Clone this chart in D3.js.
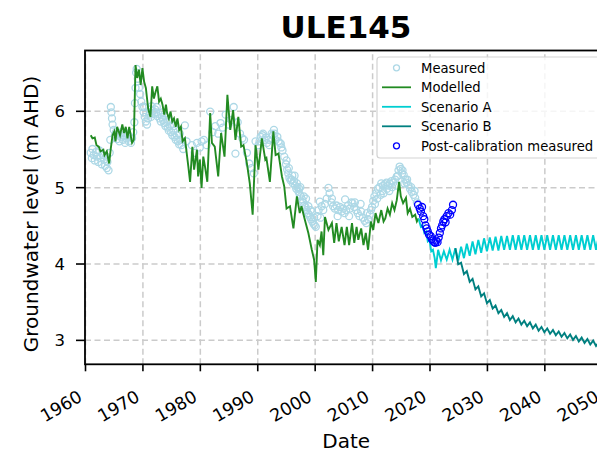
<!DOCTYPE html>
<html>
<head>
<meta charset="utf-8">
<script src="https://cdn.jsdelivr.net/npm/d3@7"></script>
<style>
  body { margin: 0; background: #fff; }
  svg { display: block; font-family: "DejaVu Sans", sans-serif; }
</style>
</head>
<body>
<svg id="chart" width="597" height="457"></svg>
<script>
// Axis ticks
const xTicks = [1960, 1970, 1980, 1990, 2000, 2010, 2020, 2030, 2040, 2050];
const yTicks = [3, 4, 5, 6];

// Observed bore levels [year, m AHD]
const measured = [
  [1961.0,5.45],[1961.2,5.38],[1961.3,5.50],[1961.5,5.42],[1961.7,5.35],[1961.9,5.46],
  [1962.1,5.40],[1962.3,5.33],[1962.5,5.48],[1962.7,5.38],[1962.9,5.30],[1963.1,5.42],
  [1963.3,5.36],[1963.5,5.28],[1963.7,5.40],[1963.8,5.25],[1963.9,5.33],[1964.1,5.22],
  [1964.3,5.45],[1964.4,5.62],[1964.5,6.05],[1964.6,5.98],[1964.7,5.90],[1964.8,5.82],
  [1965.0,5.75],[1965.2,5.68],[1965.4,5.72],[1965.6,5.63],[1965.8,5.70],[1966.0,5.60],
  [1966.2,5.66],[1966.4,5.72],[1966.6,5.62],[1966.8,5.68],[1967.0,5.58],[1967.2,5.64],
  [1967.4,5.70],[1967.6,5.60],[1967.8,5.66],[1968.0,5.58],[1968.2,5.64],[1968.4,5.72],
  [1968.6,5.85],[1968.7,6.10],[1968.8,6.30],[1968.9,6.50],[1969.0,6.55],[1969.2,6.42],
  [1969.4,6.30],[1969.6,6.22],[1969.8,6.12],[1970.0,6.05],[1970.2,5.98],[1970.4,5.92],
  [1970.6,5.86],[1970.8,5.82],[1971.0,5.90],[1971.2,5.95],[1971.4,6.02],[1971.6,6.06],
  [1971.8,6.00],[1972.0,5.96],[1972.2,6.02],[1972.4,5.98],[1972.6,5.93],[1972.8,5.96],
  [1973.0,5.90],[1973.2,5.86],[1973.4,5.92],[1973.6,5.88],[1973.8,5.84],[1974.0,5.80],
  [1974.2,5.85],[1974.4,5.78],[1974.6,5.74],[1974.8,5.80],[1975.0,5.72],[1975.2,5.68],
  [1975.4,5.74],[1975.6,5.66],[1975.8,5.62],[1976.0,5.68],[1976.2,5.60],[1976.4,5.56],
  [1976.6,5.62],[1976.8,5.55],[1977.1,5.50],[1977.4,5.81],[1977.7,5.60],
  [1970.3,6.05],[1971.5,5.92],[1972.5,6.05],[1973.5,5.98],[1974.5,5.88],[1975.5,5.80],
  [1976.5,5.70],
  [1978.6,5.55],[1979.1,5.45],[1979.5,5.58],[1980.0,5.52],[1980.3,5.60],[1980.7,5.62],
  [1981.2,5.55],[1981.8,5.99],[1982.2,5.72],[1982.7,5.80],[1983.2,5.70],[1983.6,5.84],
  [1984.0,5.78],[1984.5,5.95],[1985.0,5.82],[1985.5,5.88],[1985.9,6.05],[1986.2,5.44],
  [1986.6,5.85],[1987.0,5.70],[1987.4,5.64],[1987.7,5.62],[1988.2,5.45],[1988.6,5.31],
  [1989.0,5.25],[1989.4,5.18],[1989.7,5.60],[1990.2,5.55],[1990.6,5.66],[1990.9,5.68],
  [1991.3,5.62],[1991.7,5.58],[1992.1,5.55],[1992.5,5.70],[1992.9,5.75],[1993.2,5.62],
  [1993.5,5.66],[1993.9,5.58],[1994.1,5.57],[1994.4,5.48],[1994.7,5.40],[1995.0,5.30],
  [1990.4,5.60],[1991.0,5.70],[1991.5,5.65],[1992.0,5.62],[1992.7,5.68],[1993.0,5.70],
  [1993.7,5.60],[1994.2,5.52],
  [1995.2,5.23],[1995.4,5.18],[1995.6,5.12],[1995.8,5.09],[1996.0,5.10],[1996.2,5.05],
  [1996.4,5.08],[1996.6,5.02],[1996.8,4.98],[1997.0,5.00],[1997.2,4.94],[1997.4,4.90],
  [1997.6,4.88],[1997.8,4.84],[1998.0,4.80],[1998.2,4.76],[1998.4,4.74],[1998.6,4.70],
  [1998.8,4.66],[1999.0,4.64],[1999.2,4.61],[1999.4,4.58],[1999.6,4.55],[1999.8,4.52],
  [1995.1,5.35],[1995.5,5.25],[1996.1,5.15],[1996.9,5.05],[1997.3,4.98],[1998.1,4.88],
  [1998.9,4.75],[1999.3,4.70],[1999.9,4.60],[1996.5,5.15],[1997.5,5.00],[1998.5,4.85],
  [1999.5,4.68],
  [2000.0,4.50],[2000.2,4.48],[2000.5,4.62],[2000.7,4.70],[2000.9,4.81],[2001.2,4.75],
  [2001.5,4.70],[2001.8,4.78],[2002.1,4.85],[2002.4,4.99],[2002.6,4.92],[2002.9,4.80],
  [2003.2,4.75],[2003.5,4.72],[2003.8,4.76],[2004.1,4.70],[2004.4,4.74],[2004.7,4.68],
  [2005.0,4.72],[2005.2,4.66],[2005.5,4.70],[2005.8,4.76],[2006.1,4.72],[2006.4,4.80],
  [2006.6,4.79],[2006.9,4.74],[2007.2,4.70],[2007.5,4.66],[2007.8,4.62],[2008.1,4.68],
  [2008.4,4.60],[2008.7,4.56],[2009.0,4.53],[2009.3,4.58],[2009.6,4.64],[2009.8,4.70],
  [2001.0,4.60],[2003.0,4.85],[2004.0,4.62],[2005.3,4.84],[2006.0,4.62],[2007.0,4.80],
  [2008.0,4.78],[2009.1,4.66],
  [2010.0,4.74],[2010.2,4.82],[2010.4,4.88],[2010.7,4.92],[2011.0,4.98],[2011.3,5.00],
  [2011.6,5.05],[2011.9,5.02],[2012.2,5.04],[2012.5,5.06],[2012.8,5.02],[2013.1,5.05],
  [2013.4,5.08],[2013.7,5.06],[2014.0,5.10],[2014.3,5.14],[2014.6,5.22],[2014.8,5.27],
  [2015.0,5.24],[2015.2,5.18],[2015.5,5.16],[2015.8,5.10],[2016.0,5.06],[2016.3,5.03],
  [2016.6,4.98],[2016.9,4.94],[2017.2,4.90],[2017.5,4.86],[2017.8,4.80],
  [2010.5,4.78],[2012.0,4.92],[2013.0,4.95],[2014.2,5.02],[2011.5,4.90],[2015.6,5.05],
  [2010.9,4.85],[2011.8,4.95],[2012.6,4.98],[2013.5,5.00],[2014.5,5.15],[2015.3,5.22],
  [2016.1,5.10],[2016.8,5.00],[2017.4,4.95]
];

// Calibrated model output [year, m AHD]
const modelled = [
  [1961.0,5.68],[1961.3,5.64],[1961.7,5.65],[1962.0,5.55],[1962.4,5.53],[1962.7,5.47],
  [1963.2,5.49],[1963.4,5.42],[1963.8,5.47],[1964.2,5.31],[1964.5,5.51],[1964.8,5.68],
  [1965.1,5.73],[1965.3,5.60],[1965.6,5.79],[1966.1,5.68],[1966.5,5.82],[1966.8,5.71],
  [1967.1,5.79],[1967.4,5.64],[1967.7,5.79],[1968.0,5.66],[1968.2,5.58],[1968.5,5.62],
  [1968.8,6.60],[1969.1,6.43],[1969.4,6.54],[1969.7,6.34],[1970.0,6.56],[1970.3,6.38],
  [1970.6,6.30],[1971.0,6.03],[1971.4,5.92],[1971.7,6.32],[1972.0,6.16],[1972.3,6.25],
  [1972.6,6.32],[1972.9,6.12],[1973.2,6.16],[1973.5,6.08],[1973.8,5.95],[1974.1,6.08],
  [1974.3,5.97],[1974.6,5.90],[1974.9,5.99],[1975.2,5.86],[1975.5,5.90],[1975.8,5.79],
  [1976.1,5.90],[1976.4,5.75],[1976.7,5.79],[1977.0,5.60],[1977.4,5.64],[1978.0,5.27],
  [1978.3,5.07],[1978.7,5.53],[1979.0,5.23],[1979.5,5.49],[1979.7,5.14],[1980.0,5.36],
  [1980.3,4.99],[1980.6,5.40],[1980.9,5.27],[1981.3,5.07],[1981.8,5.97],[1982.1,5.58],
  [1982.6,5.53],[1983.2,5.14],[1983.7,5.71],[1984.3,5.40],[1984.8,6.21],[1985.3,5.75],
  [1985.8,6.01],[1986.2,5.62],[1986.7,5.92],[1987.2,5.53],[1987.6,5.55],[1988.2,5.31],
  [1988.7,5.05],[1989.2,4.64],[1989.7,5.55],[1990.2,5.23],[1990.8,5.64],[1991.4,5.36],
  [1991.6,5.38],[1992.2,5.07],[1992.8,5.73],[1993.2,5.42],[1993.7,5.44],[1994.3,5.14],
  [1994.7,5.01],[1995.1,4.72],[1995.7,4.75],[1996.3,4.46],[1996.9,4.88],[1997.4,4.66],
  [1997.7,4.75],[1998.3,4.57],[1998.9,4.40],[1999.5,4.18],[1999.9,4.05],[2000.2,3.76],
  [2000.5,4.31],[2000.9,4.24],[2001.2,4.42],[2001.5,4.11],[2001.8,4.61],[2002.4,4.44],
  [2003.0,4.53],[2003.4,4.27],[2003.8,4.53],[2004.2,4.29],[2004.7,4.48],[2005.2,4.24],
  [2005.6,4.48],[2006.0,4.24],[2006.5,4.53],[2006.9,4.27],[2007.3,4.48],[2007.6,4.31],
  [2008.1,4.46],[2008.5,4.24],[2008.9,4.40],[2009.3,4.18],[2009.8,4.55],[2010.2,4.44],
  [2010.6,4.66],[2011.1,4.53],[2011.6,4.70],[2012.0,4.55],[2012.3,4.59],[2012.7,4.72],
  [2013.1,4.64],[2013.5,4.79],[2013.9,4.70],[2014.3,4.83],[2014.7,5.07],[2015.0,4.88],
  [2015.4,4.79],[2015.9,4.86],[2016.2,4.66],[2016.6,4.72],[2017.0,4.61],[2017.5,4.64],
  [2017.8,4.55],[2018.1,4.59]
];

// Forecast, scenario A [year, m AHD]
const scenarioA = [
  [2018.1,4.59],[2018.5,4.48],[2018.8,4.50],[2019.1,4.40],[2019.4,4.42],[2019.7,4.29],
  [2020.0,4.31],[2020.3,4.16],[2020.6,4.18],[2020.9,4.07],[2021.1,3.94],[2021.5,4.18],
  [2022.0,4.04],[2022.5,4.16],[2023.0,4.05],[2023.5,4.18],[2024.0,4.05],[2024.5,4.20],
  [2025.0,4.04],[2025.5,4.22],[2026.0,4.07],[2026.5,4.26],[2027.0,4.10],[2027.5,4.29],
  [2028.0,4.12],[2028.5,4.31],[2029.0,4.14],[2029.5,4.33],[2030.0,4.16],[2030.5,4.34],
  [2031.0,4.17],[2031.5,4.35],[2032.0,4.17],[2032.5,4.36],[2033.0,4.18],[2033.5,4.36],
  [2034.0,4.18],[2034.5,4.37],[2035.0,4.18],[2035.5,4.37],[2036.0,4.18],[2036.5,4.37],
  [2037.0,4.18],[2037.5,4.37],[2038.0,4.18],[2038.5,4.37],[2039.0,4.18],[2039.5,4.37],
  [2040.0,4.18],[2040.5,4.37],[2041.0,4.18],[2041.5,4.37],[2042.0,4.18],[2042.5,4.37],
  [2043.0,4.18],[2043.5,4.37],[2044.0,4.18],[2044.5,4.37],[2045.0,4.18],[2045.5,4.37],
  [2046.0,4.18],[2046.5,4.37],[2047.0,4.18],[2047.5,4.37],[2048.0,4.18],[2048.5,4.37],
  [2049.0,4.18],[2049.5,4.37],[2050.0,4.18],[2050.5,4.37],[2051.0,4.18]
];

// Forecast, scenario B [year, m AHD]
const scenarioB = [
  [2024.5,4.20],[2025.0,3.99],[2025.5,4.01],[2026.0,3.86],[2026.5,3.90],[2027.0,3.76],
  [2027.5,3.80],[2028.0,3.66],[2028.5,3.70],[2029.0,3.57],[2029.5,3.61],[2030.0,3.48],
  [2030.5,3.52],[2031.0,3.41],[2031.5,3.45],[2032.0,3.35],[2032.5,3.39],[2033.0,3.30],
  [2033.5,3.35],[2034.0,3.26],[2034.5,3.31],[2035.0,3.23],[2035.5,3.28],[2036.0,3.20],
  [2036.5,3.25],[2037.0,3.18],[2037.5,3.23],[2038.0,3.15],[2038.5,3.20],[2039.0,3.12],
  [2039.5,3.17],[2040.0,3.10],[2040.5,3.15],[2041.0,3.08],[2041.5,3.13],[2042.0,3.06],
  [2042.5,3.11],[2043.0,3.04],[2043.5,3.09],[2044.0,3.02],[2044.5,3.07],[2045.0,3.00],
  [2045.5,3.05],[2046.0,2.98],[2046.5,3.03],[2047.0,2.96],[2047.5,3.01],[2048.0,2.94],
  [2048.5,2.99],[2049.0,2.92],[2049.5,2.97],[2050.0,2.90],[2050.5,2.95],[2051.0,2.88]
];

// Readings taken after model calibration [year, m AHD]
const postCalibration = [
  [2018.0,4.77],[2018.3,4.72],[2018.5,4.68],[2018.7,4.74],[2018.9,4.62],[2019.1,4.58],
  [2019.3,4.50],[2019.5,4.46],[2019.7,4.42],[2019.9,4.38],[2020.2,4.36],[2020.4,4.32],
  [2020.6,4.30],[2020.8,4.28],[2021.0,4.27],[2021.2,4.30],[2021.4,4.28],[2021.6,4.34],
  [2021.8,4.40],[2022.0,4.46],[2022.2,4.50],[2022.4,4.55],[2022.6,4.58],[2022.8,4.54],
  [2023.0,4.62],[2023.3,4.66],[2023.6,4.64],[2023.9,4.70],[2024.1,4.77]
];

const legendItems = [
  { label: "Measured", kind: "circle", color: "#add8e6" },
  { label: "Modelled", kind: "line", color: "#228b22" },
  { label: "Scenario A", kind: "line", color: "#00ced1" },
  { label: "Scenario B", kind: "line", color: "#008080" },
  { label: "Post-calibration measured", kind: "circle", color: "#0000ff" }
];

const plot = { left: 85, right: 607.5, top: 50.5, bottom: 364.3 };
const svg = d3.select("#chart");

const x = d3.scaleLinear().domain([1960, 2051]).range([plot.left, plot.right]);
const y = d3.scaleLinear().domain([2.68, 6.79]).range([plot.bottom, plot.top]);

// Dashed grid
const grid = svg.append("g");
grid.append("g")
  .attr("transform", `translate(0,${plot.bottom})`)
  .call(d3.axisBottom(x).tickValues(xTicks).tickSize(-(plot.bottom - plot.top)).tickFormat(""))
  .call(g => g.select(".domain").remove());
grid.append("g")
  .attr("transform", `translate(${plot.left},0)`)
  .call(d3.axisLeft(y).tickValues(yTicks).tickSize(-(plot.right - plot.left)).tickFormat(""))
  .call(g => g.select(".domain").remove());
grid.selectAll("line")
  .attr("stroke", "#cbcbcb").attr("stroke-width", 1.5).attr("stroke-dasharray", "6,3.5");

svg.append("clipPath").attr("id", "plot-clip").append("rect")
  .attr("x", plot.left).attr("y", plot.top)
  .attr("width", plot.right - plot.left).attr("height", plot.bottom - plot.top);

const layer = svg.append("g").attr("clip-path", "url(#plot-clip)");
const line = d3.line().x(d => x(d[0])).y(d => y(d[1]));

layer.append("g").selectAll("circle").data(measured).join("circle")
  .attr("cx", d => x(d[0])).attr("cy", d => y(d[1])).attr("r", 3.5)
  .attr("fill", "none").attr("stroke", "#add8e6").attr("stroke-width", 1.3);

layer.append("path").datum(modelled).attr("d", line)
  .attr("fill", "none").attr("stroke", "#228b22").attr("stroke-width", 1.9);
layer.append("path").datum(scenarioA).attr("d", line)
  .attr("fill", "none").attr("stroke", "#00ced1").attr("stroke-width", 1.9);
layer.append("path").datum(scenarioB).attr("d", line)
  .attr("fill", "none").attr("stroke", "#008080").attr("stroke-width", 1.9);

layer.append("g").selectAll("circle").data(postCalibration).join("circle")
  .attr("cx", d => x(d[0])).attr("cy", d => y(d[1])).attr("r", 3.5)
  .attr("fill", "none").attr("stroke", "#0000ff").attr("stroke-width", 1.3);

// Axes with outward ticks
const tickLen = 7;
const fsTick = 17.5;
const xAxis = svg.append("g")
  .attr("transform", `translate(0,${plot.bottom})`)
  .call(d3.axisBottom(x).tickValues(xTicks).tickSize(tickLen).tickSizeOuter(0).tickFormat(d3.format("d")));
xAxis.select(".domain").remove();
xAxis.selectAll(".tick line").attr("stroke", "#000").attr("stroke-width", 1.6);
xAxis.selectAll(".tick text")
  .attr("x", 0).attr("y", 0).attr("dy", 0)
  .attr("text-anchor", "end")
  .attr("transform", "translate(-2,36) rotate(-30)")
  .attr("font-size", fsTick).attr("font-family", "DejaVu Sans").attr("fill", "#000");

const yAxis = svg.append("g")
  .attr("transform", `translate(${plot.left},0)`)
  .call(d3.axisLeft(y).tickValues(yTicks).tickSize(tickLen + 2).tickSizeOuter(0).tickFormat(d3.format("d")));
yAxis.select(".domain").remove();
yAxis.selectAll(".tick line").attr("stroke", "#000").attr("stroke-width", 1.6);
yAxis.selectAll(".tick text")
  .attr("x", -20).attr("dy", "0.36em")
  .attr("font-size", 16.5).attr("font-family", "DejaVu Sans").attr("fill", "#000");

// Spines
svg.append("rect")
  .attr("x", plot.left).attr("y", plot.top)
  .attr("width", plot.right - plot.left).attr("height", plot.bottom - plot.top)
  .attr("fill", "none").attr("stroke", "#000").attr("stroke-width", 1.8);

// Titles
svg.append("text").attr("x", 346).attr("y", 38)
  .attr("text-anchor", "middle").attr("font-size", 31).attr("font-weight", "bold")
  .text("ULE145");
svg.append("text").attr("x", (plot.left + plot.right) / 2).attr("y", 448)
  .attr("text-anchor", "middle").attr("font-size", 20)
  .text("Date");
svg.append("text")
  .attr("transform", "translate(38,214) rotate(-90)")
  .attr("text-anchor", "middle").attr("font-size", 20)
  .text("Groundwater level (m AHD)");

// Legend
const lg = svg.append("g");
lg.append("rect")
  .attr("x", 377).attr("y", 57).attr("width", 224).attr("height", 101).attr("rx", 3)
  .attr("fill", "#fff").attr("fill-opacity", 0.8)
  .attr("stroke", "#d3d3d3").attr("stroke-width", 1.2);
const rows = lg.selectAll("g.row").data(legendItems).join("g")
  .attr("class", "row")
  .attr("transform", (d, i) => `translate(0,${67.8 + i * 19.5})`);
rows.filter(d => d.kind === "line").append("line")
  .attr("x1", 382).attr("x2", 411).attr("y1", 0).attr("y2", 0)
  .attr("stroke", d => d.color).attr("stroke-width", 1.8);
rows.filter(d => d.kind === "circle").append("circle")
  .attr("cx", 396.5).attr("cy", 0).attr("r", 3)
  .attr("fill", "none").attr("stroke", d => d.color).attr("stroke-width", 1.3);
rows.append("text")
  .attr("x", 421).attr("y", 0).attr("dy", "0.36em")
  .attr("font-size", 13.2).text(d => d.label);
</script>
</body>
</html>
